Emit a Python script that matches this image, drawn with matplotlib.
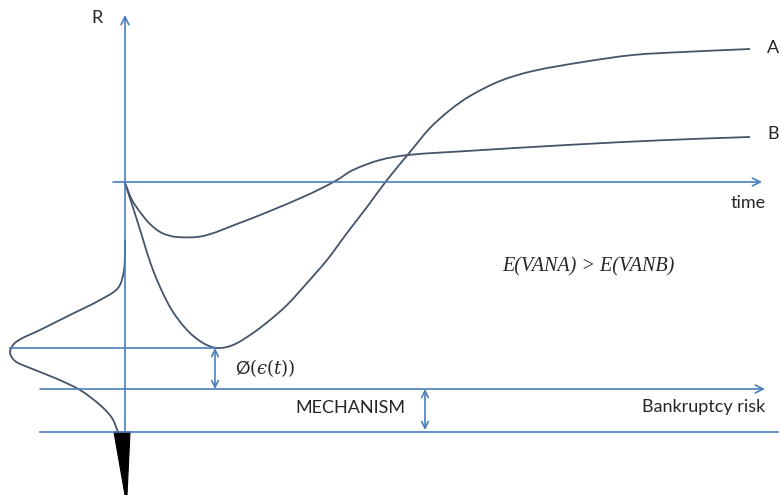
import matplotlib
matplotlib.use("Agg")
import numpy as np
import matplotlib.pyplot as plt
from matplotlib.patches import Polygon, PathPatch
from matplotlib.path import Path

# ---------- Palette ----------
AXIS = "#4a7ebb"
CURVE = "#44546a"
TEXT = "#262626"

plt.rcParams["font.family"] = ["Lato", "DejaVu Sans"]
plt.rcParams["mathtext.fontset"] = "dejavuserif"

# ---------- Data (pixel space of the schematic) ----------
curve_a_x = [125, 137, 153, 170, 187, 203, 217, 233, 253, 270, 287, 307, 327,
             347, 367, 387, 410, 430, 450, 470, 500, 533, 583, 633, 683, 750]
curve_a_y = [183, 220, 270, 307, 330, 343, 348, 345, 333, 320, 305, 283, 260,
             233, 207, 180, 152, 128, 110, 96, 81, 71, 62, 55, 52, 49]

curve_b_x = [125, 132, 140, 150, 162, 177, 203, 237, 270, 303, 320, 337, 353,
             380, 408, 467, 567, 667, 750]
curve_b_y = [183, 200, 212, 224, 233, 237, 236, 224, 211, 197, 189, 180, 170,
             160, 155, 151, 145, 140, 137]

dist_x = [125, 124, 118, 100, 70, 40, 16, 10, 15, 30, 55, 80, 100, 112, 118]
dist_y = [240, 270, 288, 300, 315, 330, 342, 352, 361, 368, 378, 390, 405,
          418, 432]

wedge_x = [114, 130, 127, 125]
wedge_y = [432, 432, 495, 495]


def smooth_path(xs, ys):
    # chord-length Catmull-Rom through the points, as cubic Bezier segments
    p = np.column_stack([xs, ys]).astype(float)
    n = len(p)
    d = np.hypot(*np.diff(p, axis=0).T)
    m = np.zeros_like(p)
    m[0] = (p[1] - p[0]) / d[0]
    m[-1] = (p[-1] - p[-2]) / d[-1]
    for i in range(1, n - 1):
        m[i] = (p[i + 1] - p[i - 1]) / (d[i - 1] + d[i])
    verts = [p[0]]
    codes = [Path.MOVETO]
    for i in range(n - 1):
        verts += [p[i] + m[i] * d[i] / 3, p[i + 1] - m[i + 1] * d[i] / 3,
                  p[i + 1]]
        codes += [Path.CURVE4] * 3
    return Path(verts, codes)


fig = plt.figure(figsize=(7.82, 4.95), dpi=100)
ax = fig.add_axes([0, 0, 1, 1])
ax.set_xlim(0, 782)
ax.set_ylim(495, 0)
ax.axis("off")

arrow = dict(arrowstyle="->", color=AXIS, lw=1.2, shrinkA=0, shrinkB=0,
             mutation_scale=14)
dbl = dict(arrowstyle="<->", color=AXIS, lw=1.2, shrinkA=0, shrinkB=0,
           mutation_scale=12)

# R axis and time axis
ax.annotate("", xy=(125, 15), xytext=(125, 432), arrowprops=arrow)
ax.annotate("", xy=(762, 182), xytext=(113, 182), arrowprops=arrow)

# horizontal reference lines
ax.plot([10, 215], [348, 348], color=AXIS, lw=1.2)
ax.annotate("", xy=(765, 389), xytext=(40, 389), arrowprops=arrow)
ax.plot([40, 778], [432, 432], color=AXIS, lw=1.2)

# double arrows
ax.annotate("", xy=(215, 348), xytext=(215, 389), arrowprops=dbl)
ax.annotate("", xy=(425, 389), xytext=(425, 430), arrowprops=dbl)

# curves
for xs, ys in [(curve_a_x, curve_a_y), (curve_b_x, curve_b_y),
               (dist_x, dist_y)]:
    ax.add_patch(PathPatch(smooth_path(xs, ys), facecolor="none",
                           edgecolor=CURVE, lw=1.3))

# black tail wedge
ax.add_patch(Polygon(list(zip(wedge_x, wedge_y)), closed=True,
                     facecolor="black", edgecolor="black", lw=0.8))

# labels
ax.text(97, 18, "R", fontsize=13, color=TEXT, ha="center", va="center")
ax.text(767, 48, "A", fontsize=13, color=TEXT, ha="left", va="center")
ax.text(767, 134, "B", fontsize=13, color=TEXT, ha="left", va="center")
ax.text(766, 203, "time", fontsize=13, color=TEXT, ha="right", va="center")
ax.text(502, 267, "E(VANA) > E(VANB)", fontsize=14.5, color=TEXT,
        family="Liberation Serif", style="italic", ha="left", va="center")
ax.text(235, 368, "Ø$(\u03f5(t))$", fontsize=13, color=TEXT,
        ha="left", va="center")
ax.text(295, 408, "MECHANISM", fontsize=13, color=TEXT, ha="left",
        va="center")
ax.text(765, 407, "Bankruptcy risk", fontsize=13, color=TEXT, ha="right",
        va="center")

fig.savefig("out.png", dpi=100, facecolor="white")
